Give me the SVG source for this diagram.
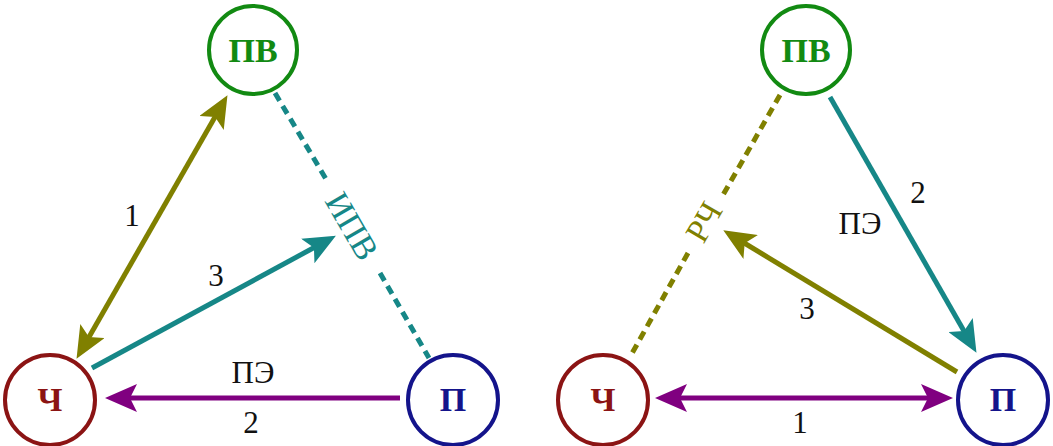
<svg xmlns="http://www.w3.org/2000/svg" width="1053" height="446" viewBox="0 0 1053 446">
<style>
.node{fill:#fff;stroke-width:4}
.c{fill:none;stroke-width:5}
.d{fill:none;stroke-width:5;stroke-dasharray:9 6}
</style>
<defs>
<marker id="aOl" viewBox="0 0 32 28" refX="23" refY="14" markerWidth="32" markerHeight="28" markerUnits="userSpaceOnUse" orient="auto-start-reverse"><path d="M0,0 L32,14 L0,28 L7,14 z" fill="#808000"/></marker>
<marker id="aTe" viewBox="0 0 32 28" refX="23" refY="14" markerWidth="32" markerHeight="28" markerUnits="userSpaceOnUse" orient="auto-start-reverse"><path d="M0,0 L32,14 L0,28 L7,14 z" fill="#168787"/></marker>
<marker id="aPu" viewBox="0 0 32 28" refX="23" refY="14" markerWidth="32" markerHeight="28" markerUnits="userSpaceOnUse" orient="auto-start-reverse"><path d="M0,0 L32,14 L0,28 L7,14 z" fill="#800080"/></marker>
</defs>
<rect width="1053" height="446" fill="#fff"/>
<g id="connectors">
<line class="c" x1="81" y1="351" x2="223" y2="103" stroke="#808000" marker-start="url(#aOl)" marker-end="url(#aOl)"/>
<line class="c" x1="92" y1="368" x2="328" y2="240" stroke="#168787" marker-end="url(#aTe)"/>
<line class="c" x1="400" y1="398" x2="114" y2="398" stroke="#800080" marker-end="url(#aPu)"/>
<line class="d" x1="275" y1="93" x2="326" y2="179" stroke="#168787"/>
<line class="d" x1="380" y1="273" x2="429" y2="358" stroke="#168787"/>
<g font-family="Liberation Serif, 'Times New Roman', 'DejaVu Serif', serif" font-size="31" text-anchor="middle" fill="#111">
<text x="132" y="226">1</text>
<text x="216" y="286">3</text>
<text x="253" y="383">ПЭ</text>
<text x="251" y="433">2</text>
<text x="918" y="203">2</text>
<text x="860" y="234">ПЭ</text>
<text x="807" y="319">3</text>
<text x="800" y="433">1</text>
</g>
<text x="0" y="0" transform="translate(352,226) rotate(60)" font-family="Liberation Serif, 'Times New Roman', 'DejaVu Serif', serif" font-size="34" text-anchor="middle" dominant-baseline="central" fill="#168787">ИПВ</text>
<line class="d" x1="780" y1="95" x2="723" y2="195" stroke="#808000"/>
<line class="d" x1="688" y1="253" x2="630" y2="357" stroke="#808000"/>
<text x="0" y="0" transform="translate(704,222) rotate(-60)" font-family="Liberation Serif, 'Times New Roman', 'DejaVu Serif', serif" font-size="33" text-anchor="middle" dominant-baseline="central" fill="#808000">РЧ</text>
<line class="c" x1="830" y1="97" x2="972" y2="345" stroke="#168787" marker-end="url(#aTe)"/>
<line class="c" x1="957" y1="372" x2="731" y2="235" stroke="#808000" marker-end="url(#aOl)"/>
<line class="c" x1="664" y1="398" x2="944" y2="398" stroke="#800080" marker-start="url(#aPu)" marker-end="url(#aPu)"/>
</g>
<g font-family="Liberation Serif, 'Times New Roman', 'DejaVu Serif', serif" font-weight="bold" font-size="34" text-anchor="middle">
<g id="n-pv-left"><circle class="node" cx="253" cy="50" r="44" stroke="#128a12"/><text x="253" y="62" fill="#128a12">ПВ</text></g>
<g id="n-ch-left"><circle class="node" cx="50" cy="400" r="45" stroke="#8b1414"/><text x="50" y="411" fill="#8b1414">Ч</text></g>
<g id="n-p-left"><circle class="node" cx="453" cy="400" r="45" stroke="#14148b"/><text x="453" y="411" fill="#14148b">П</text></g>
<g id="n-pv-right"><circle class="node" cx="806" cy="50" r="44" stroke="#128a12"/><text x="806" y="62" fill="#128a12">ПВ</text></g>
<g id="n-ch-right"><circle class="node" cx="603" cy="400" r="45" stroke="#8b1414"/><text x="603" y="411" fill="#8b1414">Ч</text></g>
<g id="n-p-right"><circle class="node" cx="1003" cy="400" r="45" stroke="#14148b"/><text x="1003" y="411" fill="#14148b">П</text></g>
</g>
</svg>
